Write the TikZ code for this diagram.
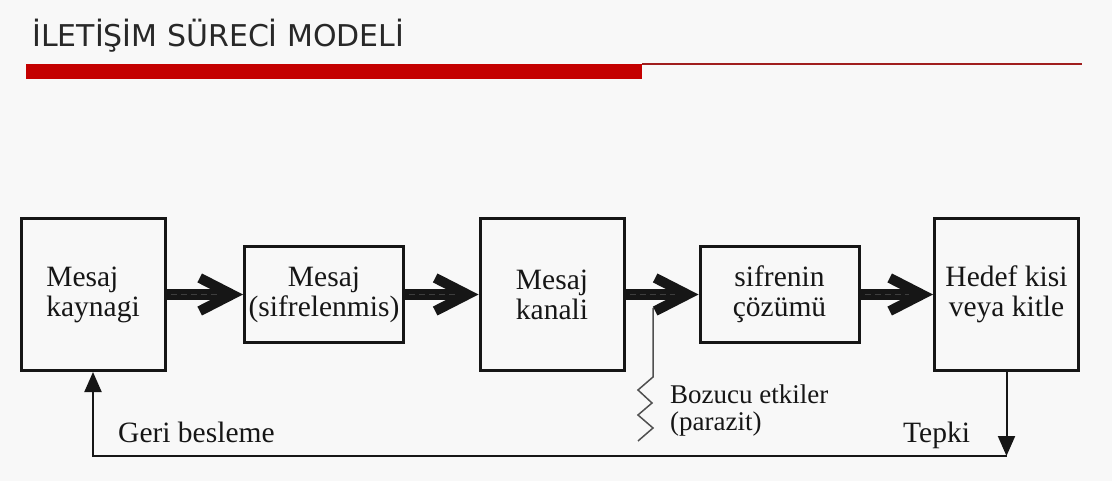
\documentclass[tikz,border=0pt]{standalone}
\usepackage{fontspec}
\setmainfont{Liberation Serif}
\newfontfamily\titlefont{DejaVu Sans}
\usetikzlibrary{arrows.meta,calc}
\definecolor{bg}{RGB}{248,248,248}
\definecolor{barred}{RGB}{196,0,0}
\definecolor{thinred}{RGB}{160,30,30}
\definecolor{ink}{RGB}{22,22,22}
\definecolor{titlecol}{RGB}{40,40,40}
\definecolor{midgray}{RGB}{62,62,62}
\definecolor{noisecol}{RGB}{80,80,80}
\newcommand\chevhead[1]{\fill[ink,shift={(#1.west)}] (-41,-21) -- (0,0) -- (-41,21) -- (-45.6,12.1) -- (-22,0) -- (-45.6,-12.1) -- cycle;}
\begin{document}
\begin{tikzpicture}[x=1pt,y=-1pt,
  box/.style={draw=ink,line width=3pt,inner sep=0pt,text=ink,font=\fontsize{29.5}{30}\selectfont},
  bigbox/.style={box,minimum width=144pt,minimum height=152pt},
  smallbox/.style={box,minimum width=159pt,minimum height=96pt},
  lbl/.style={inner sep=0pt,text=ink,font=\fontsize{29.5}{30}\selectfont},
  shaft/.style={draw=ink,line width=11pt,shorten >=20pt},
  shaftmid/.style={draw=midgray,line width=1pt,dash pattern=on 6pt off 4pt,shorten >=24pt,shorten <=4pt},
  thinarrow/.style={draw=ink,line width=2pt,-{Triangle[length=20pt,width=17pt]}},
  noise/.style={draw=noisecol,line width=1.5pt,line join=miter}
]
\fill[bg] (0,0) rectangle (1112,481);
\useasboundingbox (0,0) rectangle (1112,481);

% title and rule
\node[anchor=base west,inner sep=0pt,text=titlecol,font=\titlefont\fontsize{30}{30}\selectfont] (title) at (32,47) {İLETİŞİM SÜRECİ MODELİ};
\fill[barred] (26,64) rectangle (642,79);
\draw[thinred,line width=1.5pt] (642,64) -- (1082,64);

% boxes
\node[bigbox,align=left] (b1) at (93,294.5) {Mesaj\\kaynagi};
\node[smallbox,align=center] (b2) at (324,294.5) {Mesaj\\(sifrelenmis)};
\node[bigbox,align=left] (b3) at (552,294.5) {Mesaj\\kanali};
\node[smallbox,align=center] (b4) at (779.5,294.5) {sifrenin\\çözümü};
\node[bigbox,align=center] (b5) at (1006.5,294.5) {Hedef kisi\\veya kitle};

% noise line
\coordinate (nz) at (653,308);
\draw[noise] (nz) -- (653,377) -- (638,390) -- (652,403) -- (638,415) -- (653,428) -- (638,441);

% thick arrows
\foreach \a/\b in {b1/b2,b2/b3,b3/b4,b4/b5}{
  \draw[shaft] (\a.east) -- (\b.west);
  \draw[shaftmid] (\a.east) -- (\b.west);
  \chevhead{\b}
}

% feedback
\coordinate (fbr) at (1006.5,456);
\draw[thinarrow] (b5.south) -- (fbr);
\draw[thinarrow] (fbr) -| (b1.south);

% labels
\node[lbl,anchor=base west] (geri) at (118,442) {Geri besleme};
\node[lbl,anchor=base west] (tepki) at (903,442) {Tepki};
\node[lbl,font=\fontsize{27}{27}\selectfont,anchor=north west,align=left] (boz) at (670,384.6) {Bozucu etkiler\\(parazit)};
\end{tikzpicture}
\end{document}
